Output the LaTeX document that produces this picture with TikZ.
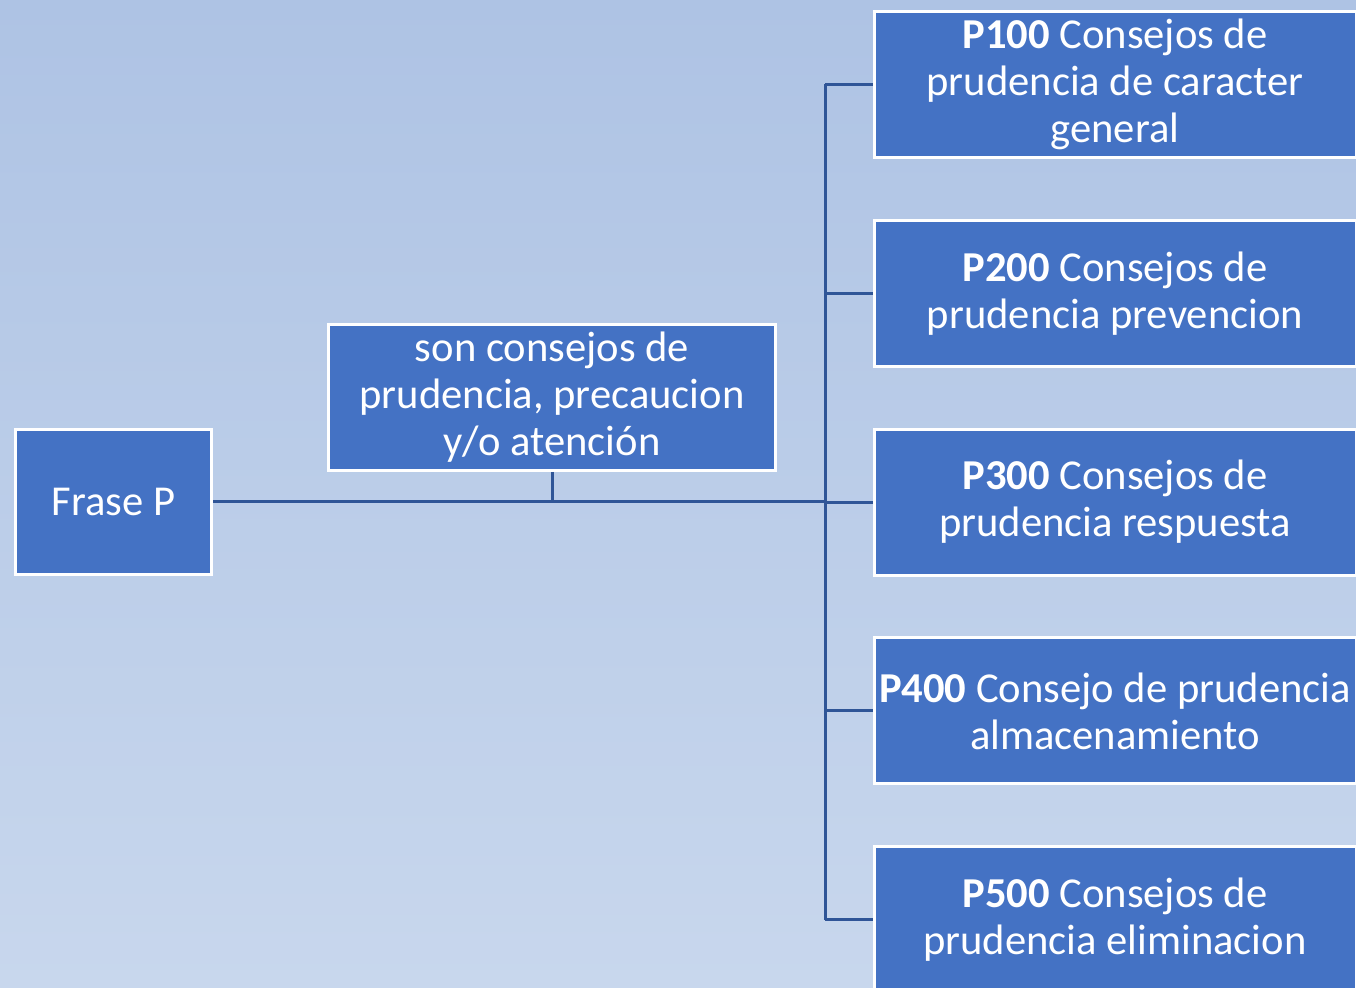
\documentclass[tikz,border=0pt]{standalone}
\usepackage{fontspec}
\setmainfont{Carlito}
\usetikzlibrary{positioning}
\definecolor{box_blue}{RGB}{68,114,196}
\definecolor{line_blue}{RGB}{47,85,151}
\definecolor{bg_top}{RGB}{174,195,228}
\definecolor{bg_bottom}{RGB}{200,215,237}

\begin{document}
\begin{tikzpicture}[
      x=0.5pt, y=-0.5pt,
      mybox/.style={
         draw=white,
         line width=1.5pt,
         fill=box_blue,
         text=white,
         align=center,
         inner sep=2pt,
         font=\fontsize{21.3}{23.5}\selectfont},
      start_box/.style={
         mybox,
         minimum width=98pt,
         minimum height=72.5pt},
      mid_box/.style={
         mybox,
         minimum width=223.5pt,
         minimum height=73pt},
      code_box/.style={
         mybox,
         minimum width=241pt,
         minimum height=73pt},
      myline/.style={
         draw=line_blue,
         line width=1.5pt},
      node distance=29.9pt,
      ]
      % background
      \useasboundingbox (0,0) rectangle (1356,988);
      \shade[top color=bg_top, bottom color=bg_bottom] (0,0) rectangle (1356,988);

      % start
      \node[start_box] (frase) at (113.5,502) {Frase P};
      \node[mid_box] (nota) at (552,397.5) {son consejos de\\prudencia, precaucion\\y/o atención};

      % codes
      \node[code_box] (p100) at (1115,84.5) {\textbf{P100} Consejos de\\prudencia de caracter\\general};
      \node[code_box,below=of p100] (p200) {\textbf{P200} Consejos de\\prudencia prevencion};
      \node[code_box,below=of p200] (p300) {\textbf{P300} Consejos de\\prudencia respuesta};
      \node[code_box,below=of p300] (p400) {\textbf{P400} Consejo de prudencia\\almacenamiento};
      \node[code_box,below=of p400] (p500) {\textbf{P500} Consejos de\\prudencia eliminacion};

      \coordinate (trunk) at (825,0);

    \draw[myline] (frase.east) -- (frase.east -| trunk);
    \draw[myline] (nota.south) -- (nota.south |- frase.east);
    \draw[myline] (p100.west -| trunk) -- (p500.west -| trunk);
    \foreach \p in {p100,p200,p300,p400,p500}
      \draw[myline] (\p.west -| trunk) -- (\p.west);
    \end{tikzpicture}
\end{document}
